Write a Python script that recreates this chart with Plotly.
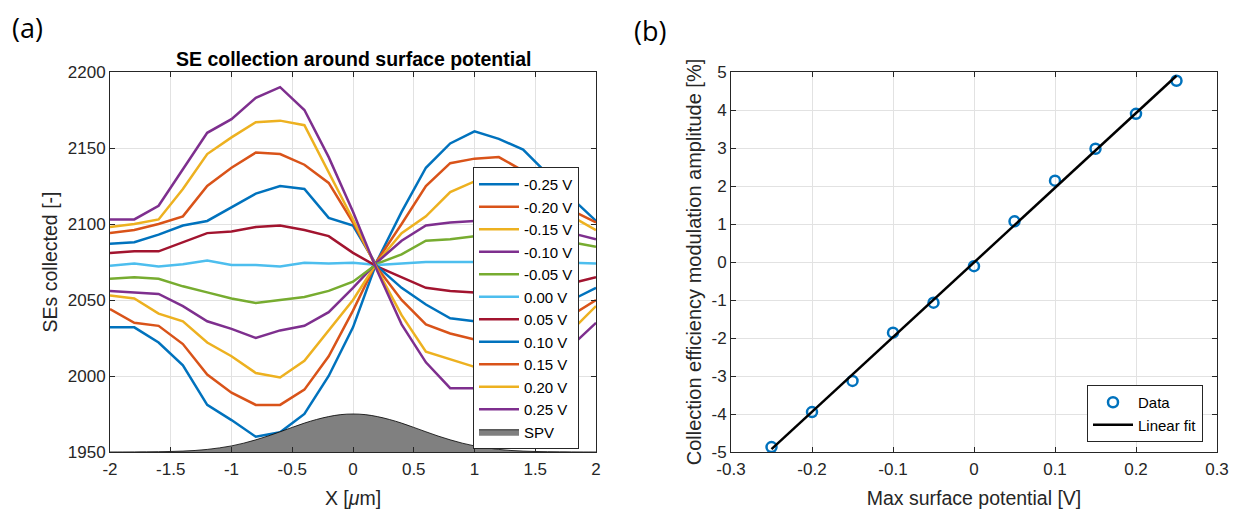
import numpy as np
import plotly.graph_objects as go

# ---------------- data: panel (a) ----------------
x_pos = [-2.0, -1.8, -1.6, -1.4, -1.2, -1.0, -0.8, -0.6, -0.4, -0.2, 0.0,
         0.2, 0.4, 0.6, 0.8, 1.0, 1.2, 1.4, 1.6, 1.8, 2.0]

se_m025 = [2032, 2032, 2022, 2007, 1981, 1971, 1960, 1963, 1975, 2000, 2032,
           2076, 2108, 2137, 2153, 2161, 2156, 2149, 2133, 2117, 2102]
se_m020 = [2044, 2035, 2033, 2021, 2001, 1989, 1981, 1981, 1991, 2013, 2043,
           2076, 2100, 2125, 2140, 2143, 2144, 2135, 2121, 2109, 2101]
se_m015 = [2053, 2051, 2041, 2036, 2022, 2013, 2002, 1999, 2010, 2030, 2050,
           2075, 2094, 2105, 2121, 2128, 2130, 2126, 2116, 2105, 2096]
se_m010 = [2056, 2055, 2054, 2046, 2036, 2031, 2025, 2030, 2033, 2042, 2058,
           2075, 2089, 2099, 2101, 2102, 2102, 2100, 2098, 2094, 2090]
se_m005 = [2064, 2065, 2064, 2059, 2055, 2051, 2048, 2050, 2052, 2056, 2062,
           2074, 2080, 2089, 2090, 2092, 2093, 2093, 2091, 2088, 2085]
se_p000 = [2072.5, 2074, 2072, 2073.5, 2076, 2073, 2073, 2072, 2074.5, 2074, 2074.5,
           2073, 2074, 2075, 2075, 2075, 2075, 2075, 2074.5, 2074.5, 2074]
se_p005 = [2081, 2082, 2082, 2088, 2094, 2095, 2098, 2099, 2096, 2092, 2081,
           2072, 2065, 2058, 2056, 2055, 2055, 2056, 2058, 2061, 2065]
se_p010 = [2087, 2088, 2093, 2099, 2102, 2111, 2120, 2125, 2123, 2104, 2099,
           2072, 2058, 2047, 2038, 2036, 2036, 2038, 2042, 2050, 2058]
se_p015 = [2094, 2096, 2100, 2105, 2125, 2137, 2147, 2146, 2139, 2127, 2101,
           2071, 2050, 2034, 2028, 2024, 2022, 2024, 2030, 2040, 2050]
se_p020 = [2098, 2100, 2103, 2123, 2146, 2157, 2167, 2168, 2165, 2134, 2103,
           2070, 2040, 2016, 2011, 2006, 2004, 2006, 2015, 2030, 2046]
se_p025 = [2103, 2103, 2112, 2136, 2160, 2169, 2183, 2190, 2175, 2144, 2108,
           2069, 2034, 2009, 1992, 1992, 1992, 1995, 2005, 2020, 2035]

series_names = ["-0.25 V", "-0.20 V", "-0.15 V", "-0.10 V", "-0.05 V", "0.00 V",
                "0.05 V", "0.10 V", "0.15 V", "0.20 V", "0.25 V"]
series_values = [se_m025, se_m020, se_m015, se_m010, se_m005, se_p000,
                 se_p005, se_p010, se_p015, se_p020, se_p025]
series_colors = ["#0072BD", "#D95319", "#EDB120", "#7E2F8E", "#77AC30", "#4DBEEE",
                 "#A2142F", "#0072BD", "#D95319", "#EDB120", "#7E2F8E"]

spv_x = [-2.0, -1.9, -1.8, -1.7, -1.6, -1.5, -1.4, -1.3, -1.2, -1.1, -1.0,
         -0.9, -0.8, -0.7, -0.6, -0.5, -0.4, -0.3, -0.2, -0.1, 0.0,
         0.1, 0.2, 0.3, 0.4, 0.5, 0.6, 0.7, 0.8, 0.9, 1.0,
         1.1, 1.2, 1.3, 1.4, 1.5, 1.6, 1.7, 1.8, 1.9, 2.0]
spv_y = [1950.0, 1950.02, 1950.05, 1950.1, 1950.2, 1950.35, 1950.6, 1951.0, 1951.7, 1952.7, 1954.0,
         1955.8, 1958.0, 1960.5, 1963.3, 1966.2, 1969.0, 1971.4, 1973.3, 1974.6, 1975.0,
         1974.6, 1973.3, 1971.4, 1969.0, 1966.2, 1963.3, 1960.5, 1958.0, 1955.8, 1954.0,
         1952.7, 1951.7, 1951.0, 1950.6, 1950.35, 1950.2, 1950.1, 1950.05, 1950.02, 1950.0]

a_xticks = [-2, -1.5, -1, -0.5, 0, 0.5, 1, 1.5, 2]
a_xticklabels = ["-2", "-1.5", "-1", "-0.5", "0", "0.5", "1", "1.5", "2"]
a_yticks = [1950, 2000, 2050, 2100, 2150, 2200]
a_yticklabels = ["1950", "2000", "2050", "2100", "2150", "2200"]

# ---------------- data: panel (b) ----------------
max_potential = [-0.25, -0.20, -0.15, -0.10, -0.05, 0.0, 0.05, 0.10, 0.15, 0.20, 0.25]
modulation_amp = [-4.87, -3.95, -3.13, -1.86, -1.07, -0.11, 1.07, 2.14, 2.98, 3.90, 4.77]

b_xticks = [-0.3, -0.2, -0.1, 0, 0.1, 0.2, 0.3]
b_xticklabels = ["-0.3", "-0.2", "-0.1", "0", "0.1", "0.2", "0.3"]
b_yticks = [-5, -4, -3, -2, -1, 0, 1, 2, 3, 4, 5]
b_yticklabels = ["-5", "-4", "-3", "-2", "-1", "0", "1", "2", "3", "4", "5"]

# ---------------- figure ----------------
FONT = "Liberation Sans, Arial, sans-serif"
AX = "#262626"
GRID = "#e2e2e2"
TICK_SIZE = 17
LABEL_SIZE = 19.5

# the page body has an 8px default margin; the figure is sized to fit the window
OFF = 8
W, H = 1237 - OFF, 509 - OFF


def px(xp):
    return (xp - OFF) / W


def py(yp):
    return 1 - (yp - OFF) / H


L1, R1 = 110, 596
L2, R2 = 731, 1217
T, B = 72, 452

fig = go.Figure()

for name, vals, col in zip(series_names, series_values, series_colors):
    fig.add_trace(go.Scatter(x=x_pos, y=vals, mode="lines", name=name,
                             line=dict(color=col, width=2.5),
                             xaxis="x", yaxis="y", legend="legend"))

fig.add_trace(go.Scatter(x=spv_x, y=spv_y, mode="lines", name="SPV",
                         fill="tozeroy", fillcolor="#808080",
                         line=dict(color="#000000", width=0.8, shape="spline"),
                         xaxis="x", yaxis="y", legend="legend"))

fit = np.polyfit(max_potential, modulation_amp, 1)
fit_x = [max_potential[0], max_potential[-1]]
fit_y = list(np.polyval(fit, fit_x))

fig.add_trace(go.Scatter(x=max_potential, y=modulation_amp, mode="markers", name="Data",
                         marker=dict(symbol="circle-open", size=10, color="#0072BD",
                                     line=dict(width=2.5, color="#0072BD")),
                         xaxis="x2", yaxis="y2", legend="legend2"))
fig.add_trace(go.Scatter(x=fit_x, y=fit_y, mode="lines", name="Linear fit",
                         line=dict(color="#000000", width=2.5),
                         xaxis="x2", yaxis="y2", legend="legend2"))

common_axis = dict(showline=True, linecolor=AX, linewidth=1, mirror="ticks",
                   ticks="inside", ticklen=5, tickcolor=AX, tickwidth=1,
                   showgrid=True, gridcolor=GRID, gridwidth=1, zeroline=False,
                   tickfont=dict(family=FONT, size=TICK_SIZE, color=AX),
                   tickmode="array", automargin=False)

fig.update_layout(
    width=W, height=H,
    margin=dict(l=0, r=0, t=0, b=0, autoexpand=False),
    paper_bgcolor="white", plot_bgcolor="white",
    font=dict(family=FONT, color=AX),
    xaxis=dict(domain=[px(L1), px(R1)], range=[-2, 2], anchor="y",
               tickvals=a_xticks, ticktext=a_xticklabels, ticklabelstandoff=2,
               title=dict(text="X [<i>μ</i>m]", font=dict(size=LABEL_SIZE, color=AX), standoff=12),
               **common_axis),
    yaxis=dict(domain=[py(B), py(T)], range=[1950, 2200], anchor="x",
               tickvals=a_yticks, ticktext=a_yticklabels,
               title=dict(text="SEs collected [-]", font=dict(size=LABEL_SIZE, color=AX), standoff=4),
               **common_axis),
    xaxis2=dict(domain=[px(L2), px(R2)], range=[-0.3, 0.3], anchor="y2",
                tickvals=b_xticks, ticktext=b_xticklabels, ticklabelstandoff=2,
                title=dict(text="Max surface potential [V]", font=dict(size=LABEL_SIZE, color=AX), standoff=12),
                **common_axis),
    yaxis2=dict(domain=[py(B), py(T)], range=[-5, 5], anchor="x2",
                tickvals=b_yticks, ticktext=b_yticklabels,
                title=dict(text="Collection efficiency modulation amplitude [%]",
                           font=dict(size=LABEL_SIZE + 0.5, color=AX), standoff=4),
                **common_axis),
    legend=dict(x=px(473), y=py(167), xanchor="left", yanchor="top",
                bgcolor="white", bordercolor=AX, borderwidth=1,
                font=dict(family=FONT, size=15, color="#000000"),
                itemwidth=40, tracegroupgap=0,
                entrywidth=58, entrywidthmode="pixels"),
    legend2=dict(x=px(1087), y=py(385), xanchor="left", yanchor="top",
                 bgcolor="white", bordercolor=AX, borderwidth=1,
                 font=dict(family=FONT, size=15, color="#000000"),
                 itemwidth=40),
    showlegend=True,
    annotations=[
        dict(text="<b>SE collection around surface potential</b>", x=px((L1 + R1) / 2),
             y=py(59), xref="paper", yref="paper", showarrow=False,
             font=dict(family=FONT, size=19.5, color="#000000"), xanchor="center", yanchor="middle"),
        dict(text="(a)", x=px(27), y=py(28), xref="paper", yref="paper", showarrow=False,
             font=dict(family="Open Sans, sans-serif", size=27, color="#000000"),
             xanchor="center", yanchor="middle"),
        dict(text="(b)", x=px(650), y=py(31), xref="paper", yref="paper", showarrow=False,
             font=dict(family="Open Sans, sans-serif", size=27, color="#000000"),
             xanchor="center", yanchor="middle"),
    ],
)

fig.write_html("out.html")
